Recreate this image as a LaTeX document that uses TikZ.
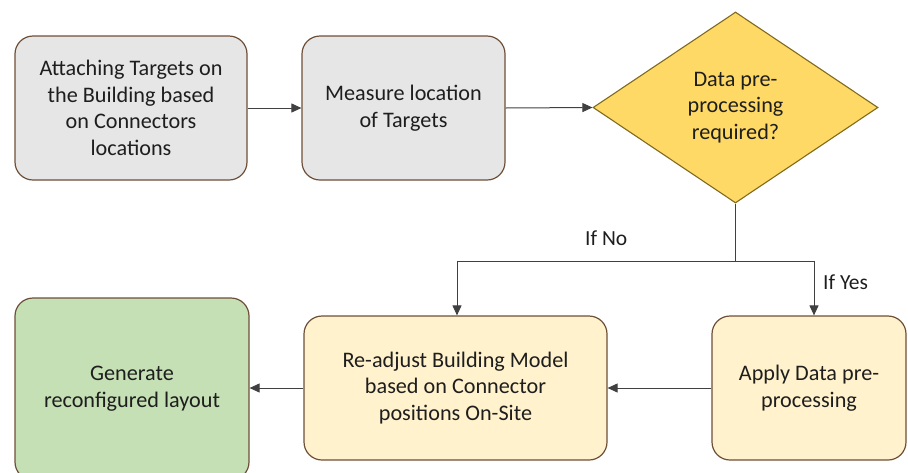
\documentclass[tikz,border=0pt]{standalone}
\usepackage{fontspec}
\setmainfont{Carlito}
\usetikzlibrary{shapes.geometric,arrows.meta}
\definecolor{edgebrown}{HTML}{6E4F38}
\definecolor{grayfill}{HTML}{E7E6E6}
\definecolor{yelfill}{HTML}{FFD966}
\definecolor{yeledge}{HTML}{7F6A1E}
\definecolor{creamfill}{HTML}{FFF2CC}
\definecolor{greenfill}{HTML}{C5E0B4}
\definecolor{linec}{HTML}{404040}
\definecolor{txt}{HTML}{1E1E1E}
\tikzset{
  proc/.style={draw=edgebrown, line width=1.2pt, rounded corners=18pt, align=center,
    inner sep=0pt, text=txt, font=\fontsize{22.2}{26.7}\selectfont},
  decis/.style={diamond, draw=yeledge, fill=yelfill, line width=1.1pt, align=center,
    inner sep=0pt, text=txt, font=\fontsize{22.2}{26.7}\selectfont},
  conn/.style={draw=linec, line width=1pt, -{Triangle[length=10pt,width=9pt]}},
  lbl/.style={text=txt, font=\fontsize{21.5}{24}\selectfont, inner sep=0pt}
}
\begin{document}
\begin{tikzpicture}[x=1pt,y=-1pt]
\useasboundingbox (0,0) rectangle (908,472);
\clip (0,0) rectangle (908,472);
\node[proc, fill=grayfill, minimum width=232pt, minimum height=144pt] (attach) at (131,108)
  {Attaching Targets on\\the Building based\\on Connectors\\locations};
\node[proc, fill=grayfill, minimum width=203pt, minimum height=144pt] (measure) at (403.5,108)
  {Measure location\\of Targets};
\node[decis, minimum width=285pt, minimum height=191pt] (decide) at (735.5,107.5)
  {Data pre-\\processing\\required?};
\node[proc, fill=greenfill, minimum width=234pt, minimum height=182pt] (generate) at (132,389)
  {Generate\\reconfigured layout};
\node[proc, fill=creamfill, minimum width=303pt, minimum height=144pt] (readjust) at (455.5,388)
  {Re-adjust Building Model\\based on Connector\\positions On-Site};
\node[proc, fill=creamfill, minimum width=194pt, minimum height=144pt] (apply) at (809,388)
  {Apply Data pre-\\processing};
\coordinate (split) at (735.5,261);
\coordinate (noturn) at (457,261);
\coordinate (yesturn) at (814,261);
\draw[conn] (attach.east) -- (measure.west);
\draw[conn] (measure.east) -- (decide.west);
\draw[draw=linec, line width=1pt] (decide.south) -- (split);
\draw[conn] (split) -- (noturn) -- (noturn |- readjust.north);
\draw[conn] (split) -- (yesturn) -- (yesturn |- apply.north);
\draw[conn] (apply.west) -- (readjust.east);
\draw[conn] (readjust.west) -- (generate.east |- readjust.west);
\node[lbl, anchor=west] (ifno) at (585,238) {If No};
\node[lbl, anchor=west] (ifyes) at (823,282) {If Yes};
\end{tikzpicture}
\end{document}
